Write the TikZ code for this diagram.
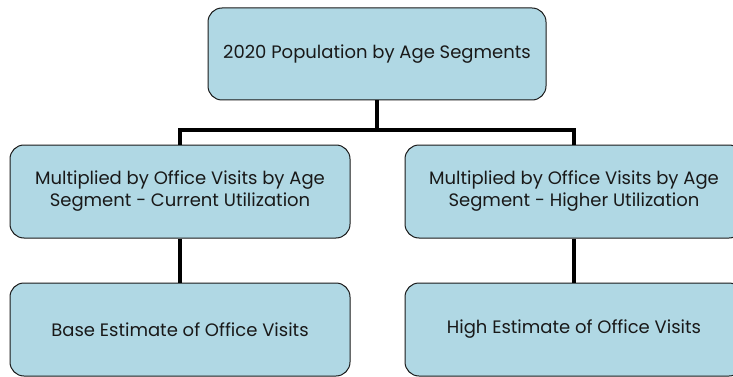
\documentclass[tikz,border=0pt]{standalone}
\usepackage{fontspec}
\setmainfont{Poppins}
\definecolor{boxfill}{HTML}{B0D8E4}
\definecolor{boxline}{HTML}{1A1A1A}
\tikzset{
  box/.style={draw=boxline, line width=1pt, fill=boxfill, rounded corners=14pt,
    align=center, inner sep=0pt, font=\fontsize{18}{22}\selectfont, text=black!90},
  conn/.style={line width=4.5pt, draw=black}
}
\begin{document}
\begin{tikzpicture}[x=1pt,y=-1pt]
\clip (0,0) rectangle (733,377);
\fill[white] (0,0) rectangle (733,377);
\coordinate (j) at (377,130);
\node[box, minimum width=338pt, minimum height=92pt] (top) at (377,54) {2020 Population by Age Segments};
\node[box, minimum width=340pt, minimum height=93pt] (lm) at (180,191.5) {Multiplied by Office Visits by Age\\Segment - Current Utilization};
\node[box, minimum width=338pt, minimum height=93pt] (rm) at (574,191.5) {Multiplied by Office Visits by Age\\Segment - Higher Utilization};
\node[box, minimum width=340pt, minimum height=93pt] (lb) at (180,329.5) {Base Estimate of Office Visits};
\node[box, minimum width=338pt, minimum height=93pt] (rb) at (574,329.5) {High Estimate of Office Visits};
\draw[conn] (top.south) -- (j);
\draw[conn] (lm.north) |- (j) -| (rm.north);
\draw[conn] (lm.south) -- (lb.north);
\draw[conn] (rm.south) -- (rb.north);
\end{tikzpicture}
\end{document}
